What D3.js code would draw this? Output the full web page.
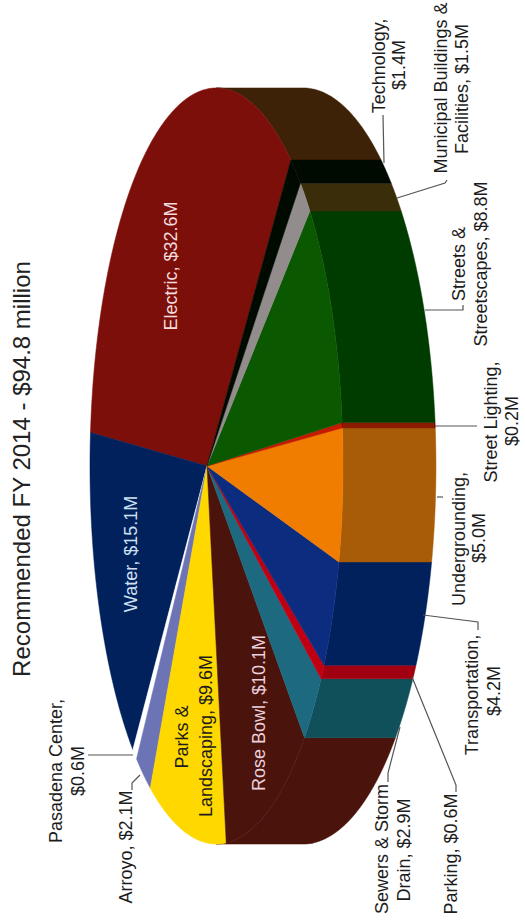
<!DOCTYPE html>
<html lang="en">
<head>
  <meta charset="UTF-8">
  <title>Recommended FY 2014</title>
  <script src="https://d3js.org/d3.v7.min.js" charset="utf-8"></script>
  <style>
    html, body { margin: 0; padding: 0; background: #fff; }
    svg { display: block; }
    text { font-family: 'Liberation Sans', Arial, sans-serif; }
  </style>
</head>
<body>
  <div id="wrapper"></div>
  <script>
    const categories = ['Electric', 'Water', 'Pasadena Center', 'Arroyo', 'Parks & Landscaping', 'Rose Bowl',
      'Sewers & Storm Drain', 'Parking', 'Transportation', 'Undergrounding', 'Street Lighting',
      'Streets & Streetscapes', 'Municipal Buildings & Facilities', 'Technology']
    const values = [32.6, 15.1, 0.6, 2.1, 9.6, 10.1, 2.9, 0.6, 4.2, 5.0, 0.2, 8.8, 1.5, 1.4]
    const labelLines = [
      ['Electric, $32.6M'],
      ['Water, $15.1M'],
      ['Pasadena Center,', '$0.6M'],
      ['Arroyo, $2.1M'],
      ['Parks &', 'Landscaping, $9.6M'],
      ['Rose Bowl, $10.1M'],
      ['Sewers & Storm', 'Drain, $2.9M'],
      ['Parking, $0.6M'],
      ['Transportation,', '$4.2M'],
      ['Undergrounding,', '$5.0M'],
      ['Street Lighting,', '$0.2M'],
      ['Streets &', 'Streetscapes, $8.8M'],
      ['Municipal Buildings &', 'Facilities, $1.5M'],
      ['Technology,', '$1.4M']
    ]
    const title = 'Recommended FY 2014 - $94.8 million'

    const topColors = ['#7d0f0a', '#00215c', '#ffffff', '#6c74b6', '#ffd800', '#4a140c',
      '#1d6a80', '#c00012', '#0c2c80', '#f07d00', '#c41a00', '#0a5800', '#938c8c', '#000a00']
    const wallColors = ['#3e2208', '#00215c', '#ffffff', '#6c74b6', '#4a140c', '#4a140c',
      '#10505a', '#a00010', '#00215c', '#a85c08', '#8a1c00', '#003c00', '#3a2e0a', '#000a00']
    const labelColors = { 0: '#f3dcdc', 1: '#cfe0f2', 5: '#ecd0dc' }

    // baseline x and centre y of each label line, in page coordinates
    const labelLayout = [
      [[177, 266]],
      [[137, 554]],
      [[62, 771], [84, 771]],
      [[132, 847]],
      [[188, 737], [212, 736]],
      [[265, 713]],
      [[388, 849], [410, 850]],
      [[457, 854]],
      [[478, 695], [500, 691]],
      [[465, 539], [485, 538]],
      [[497, 422], [518, 421]],
      [[465, 264], [487, 264]],
      [[447, 88], [468, 89]],
      [[385, 66], [405, 65]]
    ]
    const leaders = [
      [[88, 755], [133, 755]],
      [[132, 790], [132, 783], [140, 775]],
      [[388, 782], [388, 773], [400, 727]],
      [[456, 792], [456, 785], [412, 677]],
      [[478, 630], [478, 622], [423, 615]],
      [[437, 497], [443, 497]],
      [[435, 426], [477, 426]],
      [[425, 310], [463, 310], [463, 305]],
      [[397, 198], [445, 183], [447, 180]],
      [[383, 115], [384, 163]]
    ]

    const width = 525
    const height = 921
    const pie = { cx: 207, cy: 466, a: 125.8, b: 377, k: 0.075, depth: 86, wallLimit: 0.07 }

    const wrapper = d3.select('#wrapper')
      .append('svg')
        .attr('width', width)
        .attr('height', height)

    // pie angle -> angle on the tilted disc (runs counter-clockwise on the page)
    const angleScale = d3.scaleLinear()
      .domain([0, 2 * Math.PI])
      .range([309.4 * Math.PI / 180, -50.6 * Math.PI / 180])

    const project = (theta, lifted) => {
      const u = Math.cos(theta)
      const v = Math.sin(theta)
      const w = 1 - pie.k * u
      return [
        pie.cx + (pie.a * u + (lifted ? pie.depth : 0)) / w,
        pie.cy + pie.b * v / w
      ]
    }

    const arcThetas = (start, end) => d3.range(0, 201).map(i =>
      angleScale(start + (end - start) * i / 200))

    const slices = d3.pie().sort(null).value(d => d)(values)
      .map((d, i) => ({ ...d, i }))

    const line = d3.line()

    // only the part of the rim facing the viewer gets a wall
    const wallPath = d => {
      const thetas = arcThetas(d.startAngle, d.endAngle).filter(t => Math.cos(t) > pie.wallLimit)
      if (!thetas.length) return null
      const front = thetas.map(t => project(t, false))
      const back = thetas.map(t => project(t, true)).reverse()
      return line(front.concat(back)) + 'Z'
    }

    wrapper.append('g').attr('class', 'walls')
      .selectAll('path')
      .data(slices)
      .join('path')
        .attr('d', wallPath)
        .attr('fill', d => wallColors[d.i])
        .attr('stroke', d => wallColors[d.i])
        .attr('stroke-width', 0.5)

    wrapper.append('g').attr('class', 'tops')
      .selectAll('path')
      .data(slices)
      .join('path')
        .attr('d', d => line([[pie.cx, pie.cy]]
          .concat(arcThetas(d.startAngle, d.endAngle).map(t => project(t, false)))) + 'Z')
        .attr('fill', d => topColors[d.i])
        .attr('stroke', d => topColors[d.i])
        .attr('stroke-width', 0.5)

    wrapper.append('g').attr('class', 'leaders')
      .selectAll('path')
      .data(leaders)
      .join('path')
        .attr('d', d => line(d))
        .attr('fill', 'none')
        .attr('stroke', '#555')
        .attr('stroke-width', 1.2)

    const labels = wrapper.append('g').attr('class', 'labels')
    labelLines.forEach((lines, i) => {
      lines.forEach((txt, j) => {
        const [x, y] = labelLayout[i][j]
        labels.append('text')
          .attr('transform', `translate(${x},${y}) rotate(-90)`)
          .attr('text-anchor', 'middle')
          .attr('font-size', 18)
          .attr('fill', labelColors[i] || '#1c1c1c')
          .text(txt)
      })
    })

    wrapper.append('text')
      .attr('transform', 'translate(30,469) rotate(-90)')
      .attr('text-anchor', 'middle')
      .attr('font-size', 24)
      .attr('fill', '#222')
      .text(title)
  </script>
</body>
</html>
